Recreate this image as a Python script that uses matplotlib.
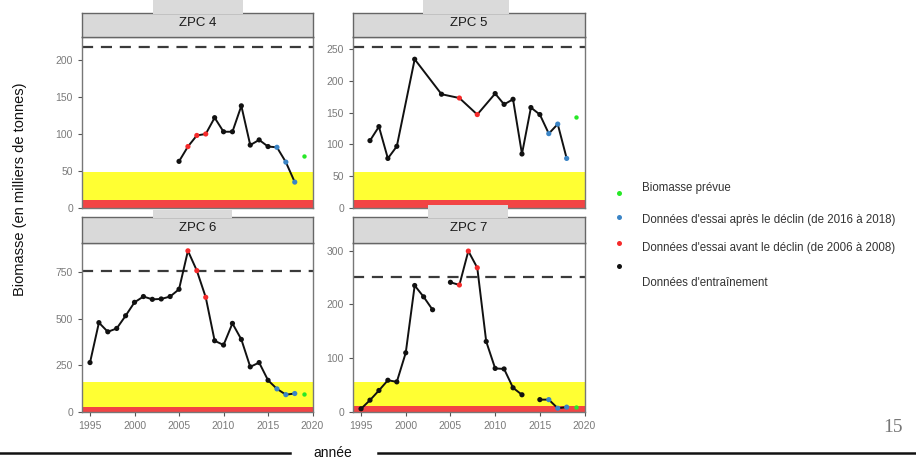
import matplotlib.pyplot as plt
import matplotlib.patches as mpatches
import numpy as np

plt.rcParams['font.family'] = ['Liberation Sans', 'DejaVu Sans']

# Biomass series per zone (years with NaN break the line)
zpc4_years = [2005, 2006, 2007, 2008, 2009, 2010, 2011, 2012, 2013, 2014, 2015, 2016, 2017, 2018]
zpc4_vals = [63, 83, 98, 100, 122, 103, 103, 138, 85, 92, 83, 82, 62, 35]

zpc5_years = [1996, 1997, 1998, 1999, 2001, 2004, 2006, 2008, 2010, 2011, 2012, 2013, 2014, 2015, 2016, 2017, 2018]
zpc5_vals = [106, 128, 78, 97, 234, 179, 173, 147, 180, 163, 171, 85, 158, 147, 117, 132, 78]

zpc6_years = list(range(1995, 2019))
zpc6_vals = [265, 479, 430, 448, 516, 588, 619, 604, 606, 619, 658, 864, 758, 615,
             382, 359, 475, 389, 242, 265, 170, 124, 93, 99]

zpc7_years = list(range(1995, 2019))
zpc7_vals = [6, 22, 40, 59, 56, 110, 235, 214, 190, np.nan, 241, 236, 299, 268,
             131, 81, 80, 45, 32, np.nan, 23, 23, 7, 9]

forecast_year = 2019
forecast_vals = [70, 143, 99, 10]

# reference levels per zone
dashed_ref = [218, 254, 757, 250]
red_top = [11, 13, 27, 11]
yellow_top = [49, 57, 161, 56]

zones = ["ZPC 4", "ZPC 5", "ZPC 6", "ZPC 7"]
series = [(zpc4_years, zpc4_vals), (zpc5_years, zpc5_vals),
          (zpc6_years, zpc6_vals), (zpc7_years, zpc7_vals)]
ylims = [231, 269, 906, 314]
yticks = [[0, 50, 100, 150, 200], [0, 50, 100, 150, 200, 250],
          [0, 250, 500, 750], [0, 100, 200, 300]]

legend_labels = ["Biomasse prévue",
                 "Données d'essai après le déclin (de 2016 à 2018)",
                 "Données d'essai avant le déclin (de 2006 à 2008)",
                 "Données d'entraînement"]

C_BLACK = "#111111"
C_RED = "#f52a2a"
C_BLUE = "#3a84c6"
C_GREEN = "#27e827"

W, H = 916, 462
fig = plt.figure(figsize=(W / 100, H / 100), dpi=100)


def px_rect(x0, y0, x1, y1):
    return [x0 / W, 1 - y1 / H, (x1 - x0) / W, (y1 - y0) / H]


# (x0, strip_top, plot_top, plot_bottom, x1)
boxes = [(82, 13, 37, 208, 313), (353, 13, 37, 208, 585),
         (82, 217, 243, 412, 313), (353, 217, 243, 412, 585)]
tabs = [(153, 0, 243, 14), (423, 0, 509, 14), (153, 210, 232, 218), (428, 205, 508, 218)]

for i, (x0, st, pt, pb, x1) in enumerate(boxes):
    ax = fig.add_axes(px_rect(x0, pt, x1, pb))
    yrs, vals = series[i]
    yrs = np.array(yrs)
    vals = np.array(vals, dtype=float)
    ax.set_xlim(1994.1, 2020.05)
    ax.set_ylim(0, ylims[i])
    ax.axhspan(0, red_top[i], color="#f24444", lw=0, zorder=1)
    ax.axhspan(red_top[i], yellow_top[i], color="#ffff33", lw=0, zorder=1)
    ax.axhline(dashed_ref[i], color="#3a3a3a", lw=1.6, dashes=(5, 3.5), zorder=2)
    ax.plot(yrs, vals, color=C_BLACK, lw=1.4, zorder=3)
    cols = [C_RED if 2006 <= y <= 2008 else C_BLUE if 2016 <= y <= 2018 else C_BLACK for y in yrs]
    ax.scatter(yrs, vals, c=cols, s=14, zorder=4, lw=0)
    ax.scatter([forecast_year], [forecast_vals[i]], c=C_GREEN, s=10, zorder=4, lw=0)
    ax.set_yticks(yticks[i])
    ax.tick_params(axis="y", labelsize=7.5, labelcolor="#7a7a7a", color="#555555", length=3, width=0.8)
    if i >= 2:
        ax.set_xticks([1995, 2000, 2005, 2010, 2015, 2020])
        ax.tick_params(axis="x", labelsize=7.5, labelcolor="#7a7a7a", color="#555555", length=3, width=0.8)
    else:
        ax.set_xticks([])
    for sp in ax.spines.values():
        sp.set_color("#777777")
        sp.set_linewidth(1.0)

    sax = fig.add_axes(px_rect(x0, st, x1, pt))
    sax.set_facecolor("#d9d9d9")
    sax.set_xticks([])
    sax.set_yticks([])
    for sp in sax.spines.values():
        sp.set_color("#666666")
        sp.set_linewidth(1.0)
    sax.text(0.5, 0.58, zones[i], ha="center", va="center", fontsize=9.5, color="#1a1a1a",
             transform=sax.transAxes)

# light tabs over the strips (slide artefacts)
for tx0, ty0, tx1, ty1 in tabs:
    fig.patches.append(mpatches.Rectangle((tx0 / W, 1 - ty1 / H), (tx1 - tx0) / W, (ty1 - ty0) / H,
                                          transform=fig.transFigure, facecolor="#dadada",
                                          edgecolor="none", zorder=5))

# y label
fig.text(20 / W, 1 - 189 / H, "Biomasse (en milliers de tonnes)", rotation=90,
         ha="center", va="center", fontsize=10.5, color="#111111")

# x label with rules
fig.text(333 / W, 1 - 453 / H, "année", ha="center", va="center", fontsize=10, color="#111111")
fig.add_artist(plt.Line2D([0, 290 / W], [1 - 453 / H] * 2, transform=fig.transFigure,
                          color="#111111", lw=1.8))
fig.add_artist(plt.Line2D([378 / W, 1], [1 - 453 / H] * 2, transform=fig.transFigure,
                          color="#111111", lw=1.8))

# legend
leg_cols = [C_GREEN, C_BLUE, C_RED, C_BLACK]
dot_y = [193, 217, 243, 266]
txt_y = [188, 220, 248, 283]
for c, dy, ty, lab in zip(leg_cols, dot_y, txt_y, legend_labels):
    fig.add_artist(plt.Line2D([619 / W], [1 - dy / H], transform=fig.transFigure, marker="o",
                              ms=3.6, mew=0, color=c, linestyle="none"))
    fig.text(642 / W, 1 - ty / H, lab, ha="left", va="center", fontsize=8.3, color="#333333")

# page number
fig.text(893 / W, 1 - 427 / H, "15", ha="center", va="center", fontsize=14,
         family="Liberation Serif", color="#777777")

fig.savefig("out.png", dpi=100)
